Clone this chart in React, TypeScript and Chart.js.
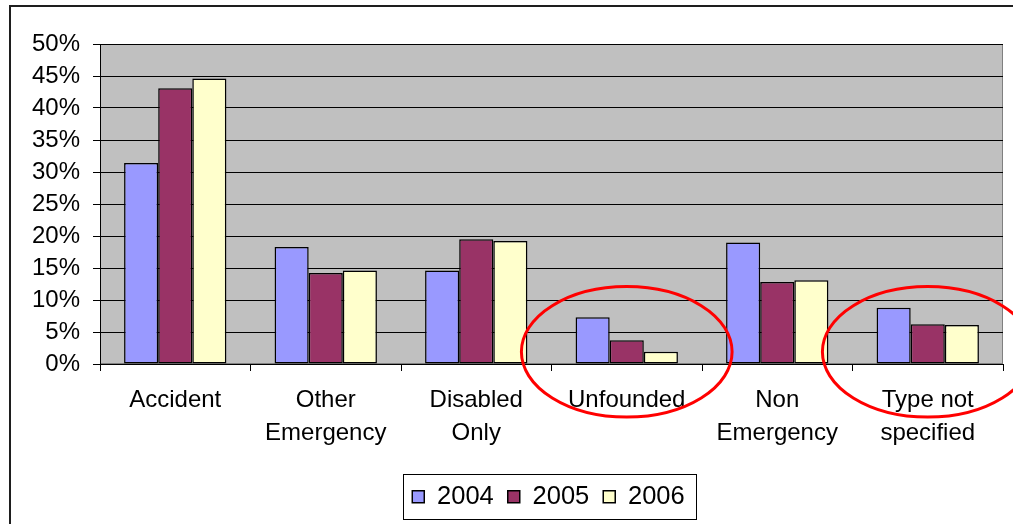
import { useEffect, useRef } from 'react';
import { Chart, registerables } from 'chart.js';

Chart.register(...registerables);

const categories: string[][] = [
  ['Accident'],
  ['Other', 'Emergency'],
  ['Disabled', 'Only'],
  ['Unfounded'],
  ['Non', 'Emergency'],
  ['Type not', 'specified'],
];
const seriesLabels = ['2004', '2005', '2006'];
const values2004 = [31.4, 18.3, 14.6, 7.3, 19.0, 8.8];
const values2005 = [43.1, 14.2, 19.5, 3.7, 12.8, 6.2];
const values2006 = [44.6, 14.6, 19.2, 1.9, 13.1, 6.1];
const seriesColors = ['#9999FF', '#993366', '#FFFFCC'];
const yMax = 50;
const yStep = 5;
const highlightedCategories = [3, 5];

const FONT = '"Liberation Sans", Arial, sans-serif';
const LEGEND_SHIFT = 47;

const decorPlugin = {
  id: 'decor',
  afterLayout(chart: any) {
    const lg = chart.legend;
    if (lg) {
      lg.left += LEGEND_SHIFT;
      lg.right += LEGEND_SHIFT;
    }
  },
  beforeDraw(chart: any) {
    const { ctx, chartArea } = chart;
    ctx.save();
    ctx.fillStyle = '#ffffff';
    ctx.fillRect(0, 0, chart.width, chart.height);
    // outer frame
    ctx.fillStyle = '#1e1e1e';
    ctx.fillRect(9, 5, 2, chart.height - 5);
    ctx.fillRect(9, 5, chart.width - 9, 2);
    // plot area
    ctx.fillStyle = '#C0C0C0';
    ctx.fillRect(chartArea.left, chartArea.top, chartArea.right - chartArea.left, chartArea.bottom - chartArea.top);
    ctx.strokeStyle = '#808080';
    ctx.lineWidth = 1;
    ctx.strokeRect(chartArea.left + 0.5, chartArea.top + 0.5, chartArea.right - chartArea.left - 1, chartArea.bottom - chartArea.top - 1);
    ctx.restore();
  },
  afterDraw(chart: any) {
    const { ctx } = chart;
    const xs = chart.scales.x;
    const ys = chart.scales.y;
    const catW = xs.getPixelForValue(1) - xs.getPixelForValue(0);
    ctx.save();
    // highlight ellipses
    ctx.strokeStyle = '#FF0000';
    ctx.lineWidth = 3;
    highlightedCategories.forEach((i) => {
      const cx = xs.getPixelForValue(i);
      const cy = ys.getPixelForValue(1.9);
      const rx = catW * 0.7;
      const ry = Math.abs(ys.getPixelForValue(0) - ys.getPixelForValue(10.2));
      ctx.beginPath();
      ctx.ellipse(cx, cy, rx, ry, 0, 0, Math.PI * 2);
      ctx.stroke();
    });
    // legend box
    const lg = chart.legend;
    if (lg && lg.legendHitBoxes && lg.legendHitBoxes.length) {
      const hb = lg.legendHitBoxes;
      const first = hb[0];
      const last = hb[hb.length - 1];
      const cy = first.top + first.height / 2;
      const left = Math.round(first.left - 9) + 0.5;
      const right = Math.round(last.left + last.width + 11) + 0.5;
      ctx.strokeStyle = '#000';
      ctx.lineWidth = 1;
      ctx.strokeRect(left, Math.round(cy - 23) + 0.5, right - left, 45);
    }
    ctx.restore();
  },
};

export default function App() {
  const ref = useRef<HTMLCanvasElement | null>(null);
  useEffect(() => {
    if (!ref.current) return;
    Chart.defaults.color = '#000';
    const data = [values2004, values2005, values2006];
    const chart = new Chart(ref.current, {
      type: 'bar',
      data: {
        labels: categories,
        datasets: seriesLabels.map((label, i) => ({
          label,
          data: data[i],
          backgroundColor: seriesColors[i],
          borderColor: '#000',
          borderWidth: 1.5,
          borderSkipped: false,
          categoryPercentage: 0.68,
          barPercentage: 1,
        })),
      },
      options: {
        animation: false,
        responsive: false,
        maintainAspectRatio: false,
        devicePixelRatio: 1,
        layout: { padding: { top: 44, right: 10, bottom: 4.5, left: 0 } },
        plugins: {
          legend: {
            position: 'bottom',
            labels: {
              boxWidth: 12,
              boxHeight: 12,
              padding: 14,
              color: '#000',
              font: { family: FONT, size: 25.5 },
            },
          },
          tooltip: { enabled: false },
        },
        scales: {
          x: {
            afterFit: (s: any) => { s.height = 106; },
            grid: { drawOnChartArea: false, drawTicks: true, tickLength: 7, color: '#000', offset: true },
            border: { color: '#000', width: 1 },
            ticks: {
              color: '#000',
              padding: 13,
              maxRotation: 0,
              autoSkip: false,
              font: { family: FONT, size: 24, lineHeight: 1.375 },
            },
          },
          y: {
            min: 0,
            max: yMax,
            afterFit: (s: any) => { s.width = 100; },
            grid: { color: '#000', tickLength: 7, lineWidth: 1 },
            border: { color: '#000', width: 1 },
            ticks: {
              stepSize: yStep,
              color: '#000',
              padding: 13,
              font: { family: FONT, size: 24 },
              callback: (v: any) => `${v}%`,
            },
          },
        },
      },
      plugins: [decorPlugin],
    });
    return () => chart.destroy();
  }, []);
  return (
    <div style={{ position: 'absolute', left: 0, top: 0, width: 1013, height: 524 }}>
      <canvas ref={ref} width={1013} height={524} style={{ width: 1013, height: 524, display: 'block' }} />
    </div>
  );
}
